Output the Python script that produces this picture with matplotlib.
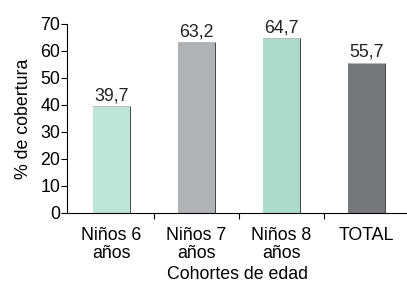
import matplotlib.pyplot as plt
import numpy as np

plt.rcParams['font.family'] = ['Liberation Sans', 'DejaVu Sans']

# data
categories = ['Niños 6\naños', 'Niños 7\naños', 'Niños 8\naños', 'TOTAL']
values = [39.7, 63.2, 64.7, 55.7]
labels = ['39,7', '63,2', '64,7', '55,7']
colors = ['#bfe5d8', '#b1b2b6', '#abdccb', '#76777b']

fs = 12.8

fig = plt.figure(figsize=(4.07, 2.82), dpi=100)
ax = fig.add_axes([0.1646, 0.2447, 0.84, 0.6702])

x = np.arange(len(categories))
w = 0.44
ax.bar(x, values, width=w, color=colors, edgecolor='none', zorder=2)
# dark right edge, light top edge
ax.vlines(x + w / 2, 0, values, color='#444444', lw=0.7, zorder=3)
ax.hlines(values, x - w / 2, x + w / 2, color='#bbbbbb', lw=0.7, zorder=3)

for xi, v, lab in zip(x, values, labels):
    ax.text(xi, v + 0.6, lab, ha='center', va='bottom', fontsize=fs, color='#222222')

ax.set_ylim(0, 70)
ax.set_xlim(-0.52, 3.5)
ax.set_yticks(range(0, 71, 10))
ax.set_xticks(x + 0.5)
ax.set_xticklabels([])
ax.set_xticks(x, minor=True)
ax.set_xticklabels(categories, minor=True, fontsize=fs, linespacing=1.05)
ax.tick_params(axis='x', which='minor', length=0, pad=10)
ax.tick_params(axis='x', which='major', length=4, width=0.8, direction='out')
ax.tick_params(axis='y', length=4, width=0.8, labelsize=fs, pad=1)

for s in ['top', 'right']:
    ax.spines[s].set_visible(False)
for s in ['left', 'bottom']:
    ax.spines[s].set_linewidth(0.8)

ax.set_ylabel('% de cobertura', fontsize=fs, labelpad=6)
ax.set_xlabel('Cohortes de edad', fontsize=fs, labelpad=3)

fig.savefig('out.png', dpi=100)
